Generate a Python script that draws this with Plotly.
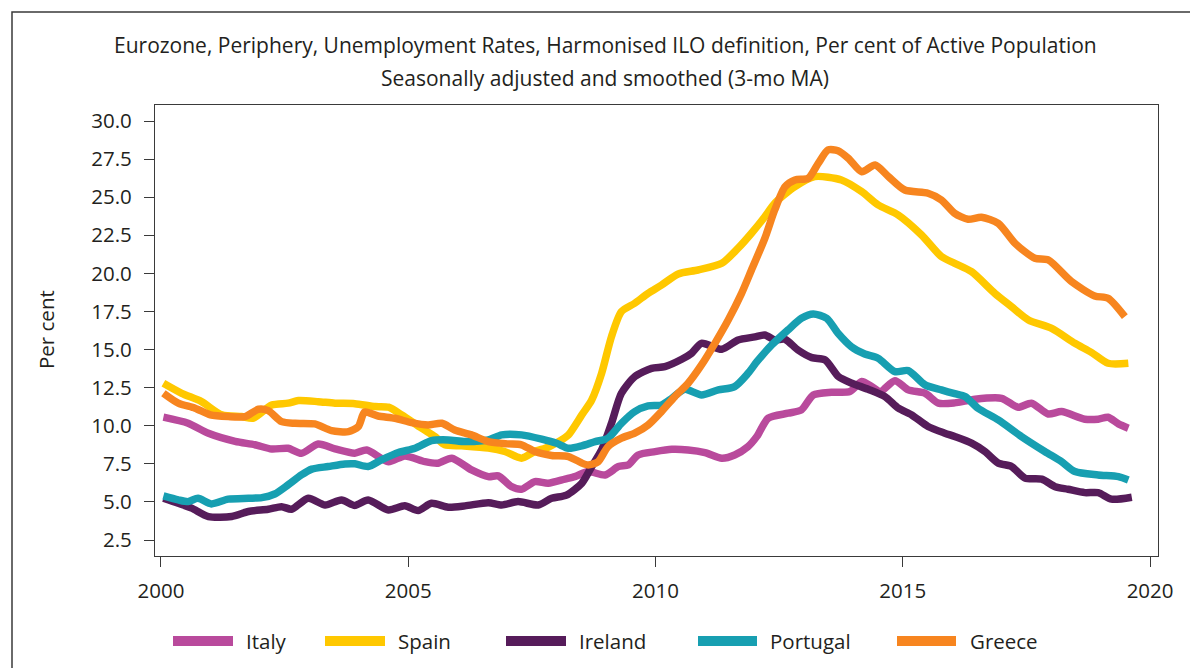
import plotly.graph_objects as go

# ---------------- data (decimal years, per cent) ----------------
italy_x = [2000.05, 2000.55, 2000.96, 2001.5, 2001.9, 2002.24, 2002.57, 2002.84, 2003.18, 2003.52, 2003.92,
           2004.16, 2004.6, 2004.93, 2005.34, 2005.6, 2005.88, 2006.28, 2006.62, 2006.82, 2007.09, 2007.29,
           2007.56, 2007.83, 2008.17, 2008.37, 2008.64, 2008.98, 2009.25, 2009.45, 2009.65, 2009.99, 2010.33,
           2010.66, 2011.0, 2011.34, 2011.6, 2011.87, 2012.05, 2012.28, 2012.68, 2012.95, 2013.19, 2013.56,
           2013.93, 2014.17, 2014.37, 2014.54, 2014.84, 2015.11, 2015.45, 2015.72, 2016.05, 2016.46, 2017.0,
           2017.33, 2017.6, 2017.94, 2018.21, 2018.68, 2018.95, 2019.15, 2019.36, 2019.56]
italy_y = [10.56, 10.16, 9.5, 8.97, 8.75, 8.47, 8.52, 8.19, 8.8, 8.48, 8.2,
           8.41, 7.64, 8.02, 7.64, 7.54, 7.87, 7.1, 6.66, 6.71, 6.0, 5.83,
           6.33, 6.23, 6.5, 6.66, 6.99, 6.77, 7.32, 7.43, 8.08, 8.3, 8.45,
           8.41, 8.24, 7.87, 8.08, 8.63, 9.3, 10.5, 10.82, 11.04, 12.02, 12.2,
           12.24, 12.9, 12.57, 12.24, 12.96, 12.35, 12.13, 11.48, 11.5, 11.74, 11.8,
           11.21, 11.48, 10.77, 10.93, 10.43, 10.43, 10.56, 10.12, 9.84]

spain_x = [2000.05, 2000.42, 2000.82, 2001.23, 2001.63, 2001.87, 2002.24, 2002.57, 2002.78, 2003.18, 2003.52,
           2003.92, 2004.33, 2004.6, 2004.87, 2005.27, 2005.54, 2005.74, 2006.08, 2006.62, 2006.95, 2007.29,
           2007.56, 2007.83, 2008.1, 2008.24, 2008.51, 2008.71, 2008.91, 2009.11, 2009.31, 2009.58, 2009.85,
           2010.12, 2010.46, 2010.86, 2011.34, 2011.67, 2011.94, 2012.21, 2012.41, 2012.82, 2013.22, 2013.76,
           2014.17, 2014.5, 2014.91, 2015.38, 2015.78, 2016.05, 2016.39, 2016.86, 2017.2, 2017.54, 2018.01,
           2018.48, 2018.82, 2019.15, 2019.56]
spain_y = [12.79, 12.13, 11.58, 10.71, 10.6, 10.5, 11.36, 11.48, 11.65, 11.58, 11.48,
           11.45, 11.26, 11.22, 10.71, 9.84, 9.29, 8.75, 8.68, 8.53, 8.31, 7.87,
           8.31, 8.59, 9.07, 9.4, 10.71, 11.69, 13.44, 15.85, 17.49, 18.04, 18.69,
           19.23, 19.96, 20.22, 20.66, 21.65, 22.63, 23.72, 24.6, 25.69, 26.35, 26.13,
           25.36, 24.49, 23.83, 22.52, 21.1, 20.66, 20.11, 18.69, 17.81, 16.94, 16.39,
           15.41, 14.8, 14.1, 14.1]

ireland_x = [2000.05, 2000.35, 2000.62, 2000.96, 2001.43, 2001.77, 2002.17, 2002.44, 2002.64, 2002.98, 2003.32,
             2003.65, 2003.92, 2004.19, 2004.6, 2004.93, 2005.2, 2005.47, 2005.81, 2006.15, 2006.62, 2006.89,
             2007.22, 2007.63, 2007.9, 2008.2, 2008.51, 2008.71, 2008.91, 2009.11, 2009.31, 2009.58, 2009.92,
             2010.19, 2010.53, 2010.73, 2010.93, 2011.34, 2011.67, 2012.01, 2012.21, 2012.41, 2012.62, 2012.88,
             2013.16, 2013.43, 2013.7, 2013.97, 2014.3, 2014.64, 2014.91, 2015.18, 2015.51, 2015.85, 2016.05,
             2016.39, 2016.66, 2016.93, 2017.2, 2017.47, 2017.81, 2018.08, 2018.34, 2018.68, 2018.95, 2019.22,
             2019.63]
ireland_y = [5.24, 4.91, 4.59, 4.04, 4.04, 4.37, 4.52, 4.69, 4.52, 5.24, 4.8,
             5.13, 4.77, 5.13, 4.47, 4.74, 4.43, 4.91, 4.65, 4.74, 4.95, 4.8,
             5.02, 4.8, 5.24, 5.45, 6.23, 7.32, 8.41, 10.16, 12.13, 13.22, 13.77,
             13.88, 14.36, 14.76, 15.41, 15.02, 15.63, 15.83, 15.96, 15.63, 15.67, 14.97,
             14.47, 14.32, 13.22, 12.79, 12.39, 11.91, 11.15, 10.71, 9.95, 9.51, 9.29,
             8.86, 8.31, 7.55, 7.32, 6.56, 6.49, 6.0, 5.83, 5.61, 5.61, 5.18,
             5.31]

portugal_x = [2000.05, 2000.35, 2000.55, 2000.75, 2001.02, 2001.36, 2001.77, 2002.04, 2002.3, 2002.57, 2002.84,
              2003.05, 2003.38, 2003.72, 2003.92, 2004.19, 2004.46, 2004.8, 2005.14, 2005.47, 2005.81, 2006.15,
              2006.62, 2006.89, 2007.29, 2007.7, 2008.0, 2008.24, 2008.51, 2008.78, 2009.04, 2009.31, 2009.58,
              2009.85, 2010.12, 2010.33, 2010.59, 2010.93, 2011.27, 2011.6, 2011.87, 2012.05, 2012.35, 2012.68,
              2012.95, 2013.19, 2013.46, 2013.69, 2013.96, 2014.23, 2014.5, 2014.84, 2015.11, 2015.45, 2015.78,
              2016.05, 2016.26, 2016.52, 2016.93, 2017.4, 2017.87, 2018.21, 2018.48, 2018.95, 2019.36, 2019.56]
portugal_y = [5.39, 5.13, 5.02, 5.24, 4.87, 5.18, 5.24, 5.28, 5.52, 6.12, 6.77,
              7.15, 7.32, 7.49, 7.5, 7.32, 7.76, 8.24, 8.52, 9.02, 9.07, 8.96,
              9.07, 9.4, 9.4, 9.12, 8.85, 8.52, 8.68, 8.96, 9.18, 10.16, 10.93,
              11.3, 11.36, 11.8, 12.39, 12.02, 12.35, 12.57, 13.44, 14.2, 15.3, 16.29,
              17.05, 17.34, 17.05, 16.07, 15.19, 14.71, 14.43, 13.55, 13.62, 12.68, 12.35,
              12.1, 11.91, 11.15, 10.38, 9.29, 8.31, 7.64, 6.99, 6.77, 6.66, 6.44]

greece_x = [2000.05, 2000.35, 2000.69, 2001.0, 2001.36, 2001.7, 2001.97, 2002.17, 2002.44, 2002.71, 2003.11,
            2003.45, 2003.79, 2003.99, 2004.12, 2004.39, 2004.73, 2005.07, 2005.4, 2005.68, 2005.94, 2006.28,
            2006.62, 2007.02, 2007.29, 2007.56, 2007.9, 2008.24, 2008.51, 2008.64, 2008.84, 2009.04, 2009.31,
            2009.58, 2009.85, 2010.12, 2010.39, 2010.66, 2010.93, 2011.2, 2011.47, 2011.74, 2011.94, 2012.21,
            2012.41, 2012.62, 2012.82, 2013.09, 2013.29, 2013.49, 2013.69, 2013.9, 2014.17, 2014.44, 2014.71,
            2015.04, 2015.51, 2015.78, 2016.05, 2016.32, 2016.59, 2016.93, 2017.27, 2017.67, 2017.94, 2018.41,
            2018.88, 2019.15, 2019.49]
greece_y = [12.13, 11.48, 11.15, 10.71, 10.6, 10.6, 11.08, 10.99, 10.27, 10.16, 10.12,
            9.68, 9.61, 9.94, 10.9, 10.64, 10.49, 10.2, 10.05, 10.16, 9.72, 9.4,
            8.96, 8.81, 8.75, 8.31, 8.05, 7.98, 7.55, 7.43, 7.64, 8.63, 9.18,
            9.51, 10.05, 10.93, 11.91, 12.79, 13.99, 15.41, 16.94, 18.69, 20.22, 22.3,
            24.16, 25.69, 26.13, 26.24, 27.22, 28.1, 28.05, 27.55, 26.67, 27.11, 26.35,
            25.47, 25.26, 24.82, 23.94, 23.55, 23.68, 23.28, 21.97, 20.99, 20.88, 19.46,
            18.52, 18.37, 17.16]

series_names = ["Italy", "Spain", "Ireland", "Portugal", "Greece"]
series_x = [italy_x, spain_x, ireland_x, portugal_x, greece_x]
series_y = [italy_y, spain_y, ireland_y, portugal_y, greece_y]
series_colors = ["#B94A9C", "#FFC800", "#561C5A", "#179FB1", "#F7851F"]

x_ticks = [2000, 2005, 2010, 2015, 2020]
y_ticks = [2.5, 5.0, 7.5, 10.0, 12.5, 15.0, 17.5, 20.0, 22.5, 25.0, 27.5, 30.0]

title_line1 = "Eurozone, Periphery, Unemployment Rates, Harmonised ILO definition, Per cent of Active Population"
title_line2 = "Seasonally adjusted and smoothed (3-mo MA)"
y_title = "Per cent"

# ---------------- layout geometry (pixels) ----------------
W, H = 1190, 668
L, R, T, B = 155, 1158, 105, 556
FONT = "Open Sans"
TXT = "#231F20"
FS = 20.5


def px(xpix):
    return (xpix - L) / (R - L)


def py(ypix):
    return (B - ypix) / (B - T)


fig = go.Figure()
for name, xs, ys, col in zip(series_names, series_x, series_y, series_colors):
    fig.add_trace(go.Scatter(x=xs, y=ys, name=name, mode="lines",
                             line=dict(color=col, width=7.5, shape="spline", smoothing=0.7),
                             showlegend=False, hoverinfo="x+y+name"))

fig.update_layout(
    width=W, height=H,
    margin=dict(l=L, r=W - R, t=T, b=H - B, pad=0),
    paper_bgcolor="white", plot_bgcolor="white",
    font=dict(family=FONT, size=FS, color=TXT),
    showlegend=False,
)

fig.update_xaxes(range=[1999.88, 2020.16], tickvals=x_ticks, ticktext=[str(v) for v in x_ticks],
                 showgrid=False, zeroline=False, showline=True, mirror=True,
                 linecolor="#3a3a3a", linewidth=1.3, ticks="outside", ticklen=10,
                 tickcolor="#3a3a3a", tickwidth=1.3, ticklabelstandoff=6,
                 tickfont=dict(family=FONT, size=FS, color=TXT))
fig.update_yaxes(range=[1.45, 31.05], tickvals=y_ticks, ticktext=[f"{v:.1f}" for v in y_ticks],
                 showgrid=False, zeroline=False, showline=True, mirror=True,
                 linecolor="#3a3a3a", linewidth=1.3, ticks="outside", ticklen=10,
                 tickcolor="#3a3a3a", tickwidth=1.3, ticklabelstandoff=8,
                 tickfont=dict(family=FONT, size=FS, color=TXT))

# y-axis title
fig.add_annotation(text=y_title, xref="paper", yref="paper", x=px(46), y=py(330), textangle=-90,
                   xanchor="center", yanchor="middle", showarrow=False,
                   font=dict(family=FONT, size=FS, color=TXT))

# titles
fig.add_annotation(text=title_line1, xref="paper", yref="paper", x=px(605), y=py(45),
                   xanchor="center", yanchor="middle", showarrow=False,
                   font=dict(family=FONT, size=21, color=TXT))
fig.add_annotation(text=title_line2, xref="paper", yref="paper", x=px(605), y=py(78),
                   xanchor="center", yanchor="middle", showarrow=False,
                   font=dict(family=FONT, size=21, color=TXT))

# outer frame
fig.add_shape(type="rect", xref="paper", yref="paper", x0=px(12), y0=py(12), x1=px(1300), y1=py(800),
              line=dict(color="#3a3a3a", width=1.5), fillcolor="rgba(0,0,0,0)", layer="below")

# manual legend
legend_pos = [(173, 233, 244), (325, 385, 396), (506, 566, 577), (698, 757, 768), (897, 956, 968)]
leg_y = 641
for name, col, (s0, s1, tx) in zip(series_names, series_colors, legend_pos):
    fig.add_shape(type="line", xref="paper", yref="paper", x0=px(s0), x1=px(s1), y0=py(leg_y), y1=py(leg_y),
                  line=dict(color=col, width=10))
    fig.add_annotation(text=name, xref="paper", yref="paper", x=px(tx), y=py(leg_y),
                       xanchor="left", yanchor="middle", showarrow=False,
                       font=dict(family=FONT, size=FS, color=TXT))

fig.write_html("out.html", config={"displayModeBar": False},
               post_script="document.body.style.margin='0';")
